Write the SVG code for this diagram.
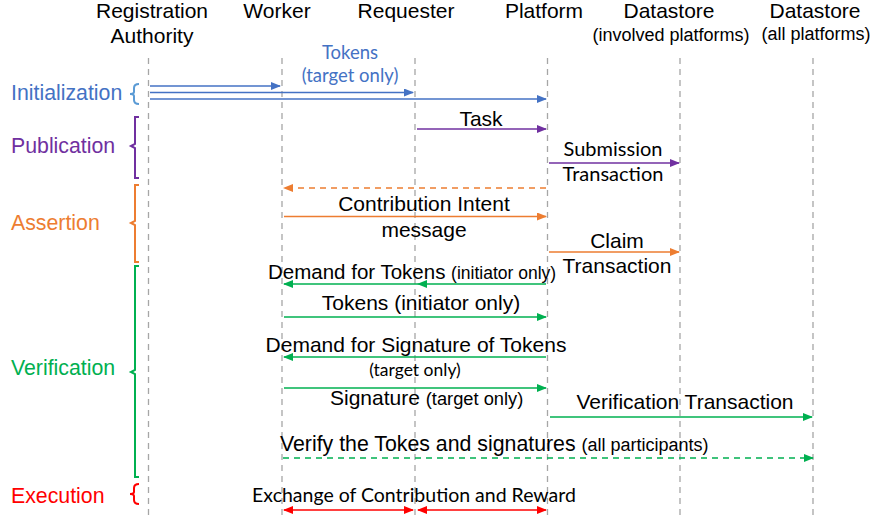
<svg xmlns="http://www.w3.org/2000/svg" width="876" height="521" viewBox="0 0 876 521">
<defs>
<style>
.a{font-family:"Liberation Sans",Arial,sans-serif;}
.c{font-family:Lato,"Open Sans",sans-serif;}
.hd{font-size:21px;fill:#000;}
.sub{font-size:18px;fill:#000;}
.ph{font-size:21.3px;}
.m{font-size:21px;fill:#000;}
.life{stroke:#a6a6a6;stroke-width:1.3;stroke-dasharray:6,5;fill:none;}
.br{fill:none;stroke-width:2;}
.ln{stroke-width:1.6;fill:none;}
</style>
<marker id="mb" markerWidth="10" markerHeight="8" refX="9" refY="4" orient="auto-start-reverse" markerUnits="userSpaceOnUse"><path d="M0,0 L10,4 L0,8 z" fill="#4472C4"/></marker>
<marker id="mp" markerWidth="10" markerHeight="8" refX="9" refY="4" orient="auto-start-reverse" markerUnits="userSpaceOnUse"><path d="M0,0 L10,4 L0,8 z" fill="#7030A0"/></marker>
<marker id="mo" markerWidth="10" markerHeight="8" refX="9" refY="4" orient="auto-start-reverse" markerUnits="userSpaceOnUse"><path d="M0,0 L10,4 L0,8 z" fill="#ED7D31"/></marker>
<marker id="mg" markerWidth="10" markerHeight="8" refX="9" refY="4" orient="auto-start-reverse" markerUnits="userSpaceOnUse"><path d="M0,0 L10,4 L0,8 z" fill="#00B050"/></marker>
<marker id="mr" markerWidth="10" markerHeight="8" refX="9" refY="4" orient="auto-start-reverse" markerUnits="userSpaceOnUse"><path d="M0,0 L10,4 L0,8 z" fill="#FF0000"/></marker>
</defs>
<rect width="876" height="521" fill="#fff"/>

<g id="registration-authority">
<text class="a hd" x="152" y="18" text-anchor="middle">Registration</text>
<text class="a hd" x="152" y="43" text-anchor="middle">Authority</text>
<line class="life" x1="148.5" y1="58" x2="148.5" y2="518"/>
</g>
<g id="worker">
<text class="a hd" x="277" y="18" text-anchor="middle">Worker</text>
<line class="life" x1="282" y1="58" x2="282" y2="518"/>
</g>
<g id="requester">
<text class="a hd" x="406" y="18" text-anchor="middle">Requester</text>
<line class="life" x1="415" y1="58" x2="415" y2="518"/>
</g>
<g id="platform">
<text class="a hd" x="544" y="18" text-anchor="middle">Platform</text>
<line class="life" x1="547.5" y1="58" x2="547.5" y2="518"/>
</g>
<g id="datastore-involved">
<text class="a hd" x="669" y="18" text-anchor="middle">Datastore</text>
<text class="a sub" x="671" y="41" text-anchor="middle">(involved platforms)</text>
<line class="life" x1="680" y1="58" x2="680" y2="518"/>
</g>
<g id="datastore-all">
<text class="a hd" x="815" y="18" text-anchor="middle">Datastore</text>
<text class="a sub" x="816" y="40" text-anchor="middle">(all platforms)</text>
<line class="life" x1="813" y1="58" x2="813" y2="518"/>
</g>

<g id="phases">
<text class="a ph" x="11" y="100" fill="#4472C4">Initialization</text>
<path class="br" stroke="#5B9BD5" d="M139,84 Q134,84 134,88 L134,92 Q134,94 130,94 Q134,94 134,96 L134,100 Q134,104 139,104"/>
<text class="a ph" x="11" y="153" fill="#7030A0">Publication</text>
<path class="br" stroke="#7030A0" d="M139,117 L135,117 L135,144 L131,146 L135,148 L135,178 L139,178"/>
<text class="a ph" x="11" y="230" fill="#ED7D31">Assertion</text>
<path class="br" stroke="#ED7D31" d="M139,185 L135,185 L135,221 L131,223 L135,225 L135,262 L139,262"/>
<text class="a ph" x="11" y="375" fill="#00B050">Verification</text>
<path class="br" stroke="#00B050" d="M139,266 L135,266 L135,370 L131,372 L135,374 L135,477 L139,477"/>
<text class="a ph" x="11" y="503" fill="#FF0000">Execution</text>
<path class="br" stroke="#FF0000" d="M139,484 Q134,484 134,488 L134,492 Q134,494 130,494 Q134,494 134,496 L134,500 Q134,504 139,504"/>
</g>

<g id="connectors">
<line class="ln" stroke="#4472C4" x1="150" y1="86" x2="280" y2="86" marker-end="url(#mb)"/>
<line class="ln" stroke="#4472C4" x1="150" y1="92.5" x2="413" y2="92.5" marker-end="url(#mb)"/>
<line class="ln" stroke="#4472C4" x1="150" y1="99" x2="546" y2="99" marker-end="url(#mb)"/>
<line class="ln" stroke="#7030A0" x1="417" y1="129" x2="546" y2="129" marker-end="url(#mp)"/>
<line class="ln" stroke="#7030A0" x1="549" y1="163" x2="679" y2="163" marker-end="url(#mp)"/>
<line class="ln" stroke="#ED7D31" stroke-dasharray="6,5" x1="546" y1="188" x2="284" y2="188" marker-end="url(#mo)"/>
<line class="ln" stroke="#ED7D31" x1="284" y1="216.5" x2="546" y2="216.5" marker-end="url(#mo)"/>
<line class="ln" stroke="#ED7D31" x1="549" y1="252" x2="679" y2="252" marker-end="url(#mo)"/>
<line class="ln" stroke="#00B050" x1="546" y1="284" x2="418" y2="284" marker-end="url(#mg)"/>
<line class="ln" stroke="#00B050" x1="418" y1="284" x2="284" y2="284" marker-end="url(#mg)"/>
<line class="ln" stroke="#00B050" x1="284" y1="317" x2="546" y2="317" marker-end="url(#mg)"/>
<line class="ln" stroke="#00B050" x1="546" y1="357" x2="284" y2="357" marker-end="url(#mg)"/>
<line class="ln" stroke="#00B050" x1="284" y1="388" x2="546" y2="388" marker-end="url(#mg)"/>
<line class="ln" stroke="#00B050" x1="550" y1="417" x2="812" y2="417" marker-end="url(#mg)"/>
<line class="ln" stroke="#00B050" stroke-dasharray="6,5" x1="283" y1="458" x2="813" y2="458" marker-end="url(#mg)"/>
<line class="ln" stroke="#FF0000" x1="284" y1="510" x2="413" y2="510" marker-start="url(#mr)" marker-end="url(#mr)"/>
<line class="ln" stroke="#FF0000" x1="418" y1="510" x2="546" y2="510" marker-start="url(#mr)" marker-end="url(#mr)"/>
</g>

<g id="labels">
<text class="c" x="350" y="59" font-size="18.5" fill="#4472C4" text-anchor="middle">Tokens</text>
<text class="c" x="350" y="82" font-size="18.5" fill="#4472C4" text-anchor="middle">(target only)</text>
<text class="a m" x="481" y="126" text-anchor="middle">Task</text>
<text class="c" x="613" y="156" font-size="20" text-anchor="middle">Submission</text>
<text class="c" x="613" y="181" font-size="20" text-anchor="middle">Transaction</text>
<text class="a m" x="424" y="211" text-anchor="middle">Contribution Intent</text>
<text class="a m" x="424" y="237" text-anchor="middle">message</text>
<text class="a m" x="617" y="248" text-anchor="middle">Claim</text>
<text class="a m" x="617" y="273" text-anchor="middle">Transaction</text>
<text class="a" x="268" y="279" font-size="20.5">Demand for Tokens <tspan font-size="17.5">(initiator only)</tspan></text>
<text class="a m" x="421" y="310" text-anchor="middle">Tokens (initiator only)</text>
<text class="a m" x="416" y="352" text-anchor="middle">Demand for Signature of Tokens</text>
<text class="c" x="415" y="376" font-size="17.5" text-anchor="middle">(target only)</text>
<text class="a" x="330" y="405" font-size="21">Signature <tspan font-size="18.3">(target only)</tspan></text>
<text class="a m" x="685" y="409" text-anchor="middle">Verification Transaction</text>
<text class="a" x="280" y="451" font-size="21.3">Verify the Tokes and signatures <tspan font-size="18">(all participants)</tspan></text>
<text class="c" x="414" y="502" font-size="19.5" text-anchor="middle">Exchange of Contribution and Reward</text>
</g>
</svg>
